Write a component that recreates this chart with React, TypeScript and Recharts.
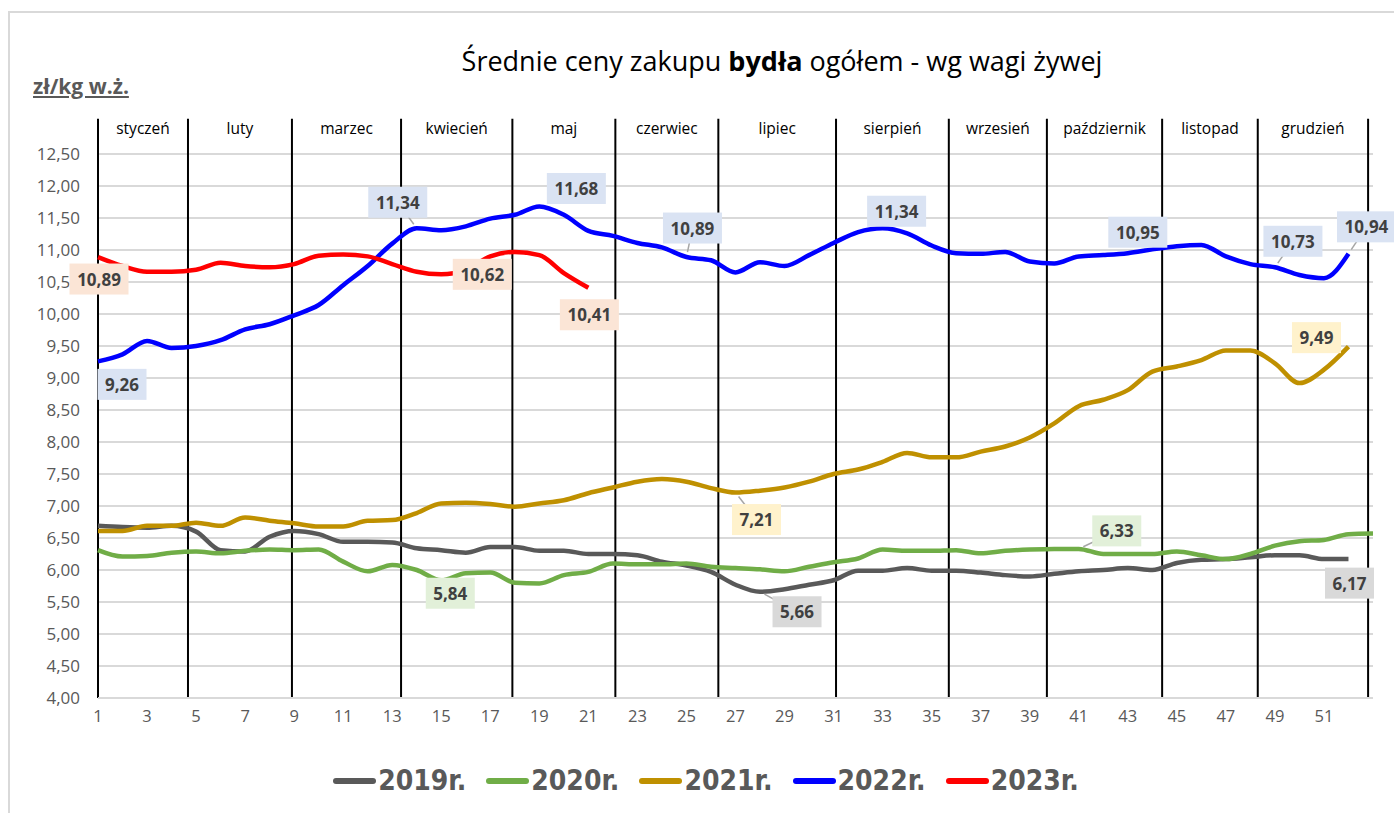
import {
  LineChart,
  Line,
  XAxis,
  YAxis,
  CartesianGrid,
  ReferenceLine,
  ReferenceDot,
  LabelList,
} from "recharts";

// weekly average purchase prices of cattle, zł/kg live weight
const weeks = [
  1, 2, 3, 4, 5, 6, 7, 8, 9, 10, 11, 12, 13, 14, 15, 16, 17, 18, 19, 20, 21, 22, 23, 24, 25, 26,
  27, 28, 29, 30, 31, 32, 33, 34, 35, 36, 37, 38, 39, 40, 41, 42, 43, 44, 45, 46, 47, 48, 49, 50,
  51, 52, 53,
];

const prices2019 = [
  6.69, 6.67, 6.66, 6.69, 6.6, 6.31, 6.29, 6.52, 6.61, 6.56, 6.44, 6.44, 6.43, 6.34, 6.31, 6.27,
  6.36, 6.36, 6.3, 6.3, 6.25, 6.25, 6.23, 6.13, 6.07, 5.97, 5.77, 5.66, 5.7, 5.77, 5.84, 5.99,
  5.99, 6.03, 5.99, 5.99, 5.96, 5.92, 5.9, 5.94, 5.98, 6.0, 6.03, 6.0, 6.11, 6.16, 6.17, 6.2, 6.23,
  6.23, 6.17, 6.17,
];
const prices2020 = [
  6.31, 6.21, 6.22, 6.27, 6.29, 6.26, 6.3, 6.32, 6.31, 6.32, 6.13, 5.98, 6.08, 6.0, 5.84, 5.95,
  5.96, 5.8, 5.79, 5.92, 5.97, 6.1, 6.09, 6.09, 6.1, 6.05, 6.03, 6.01, 5.98, 6.05, 6.12, 6.18,
  6.32, 6.3, 6.3, 6.31, 6.26, 6.3, 6.32, 6.33, 6.33, 6.25, 6.25, 6.25, 6.29, 6.23, 6.17, 6.25,
  6.38, 6.45, 6.47, 6.56, 6.57,
];
const prices2021 = [
  6.61, 6.61, 6.69, 6.69, 6.74, 6.69, 6.82, 6.77, 6.73, 6.68, 6.68, 6.77, 6.78, 6.89, 7.04, 7.05,
  7.03, 6.99, 7.04, 7.09, 7.2, 7.29, 7.38, 7.42, 7.38, 7.28, 7.21, 7.24, 7.29, 7.38, 7.5, 7.57,
  7.69, 7.83, 7.76, 7.76, 7.85, 7.93, 8.07, 8.29, 8.56, 8.66, 8.81, 9.1, 9.18, 9.28, 9.43, 9.43,
  9.23, 8.92, 9.13, 9.49,
];
const prices2022 = [
  9.26, 9.37, 9.58, 9.47, 9.5, 9.59, 9.76, 9.84, 9.98, 10.14, 10.45, 10.75, 11.1, 11.34, 11.31,
  11.37, 11.49, 11.55, 11.68, 11.55, 11.3, 11.22, 11.11, 11.04, 10.89, 10.84, 10.65, 10.81, 10.75,
  10.92, 11.11, 11.28, 11.34, 11.26, 11.07, 10.95, 10.94, 10.97, 10.82, 10.79, 10.9, 10.92, 10.95,
  11.01, 11.06, 11.08, 10.9, 10.78, 10.73, 10.61, 10.56, 10.94,
];
const prices2023 = [
  10.89, 10.75, 10.66, 10.66, 10.69, 10.8, 10.75, 10.73, 10.78, 10.91, 10.93, 10.9, 10.78, 10.66,
  10.62, 10.69, 10.9, 10.97, 10.92, 10.64, 10.41,
];

const yTicks = [4, 4.5, 5, 5.5, 6, 6.5, 7, 7.5, 8, 8.5, 9, 9.5, 10, 10.5, 11, 11.5, 12, 12.5];
const xTicks = [1, 3, 5, 7, 9, 11, 13, 15, 17, 19, 21, 23, 25, 27, 29, 31, 33, 35, 37, 39, 41, 43, 45, 47, 49, 51];

const monthNames = [
  "styczeń", "luty", "marzec", "kwiecień", "maj", "czerwiec",
  "lipiec", "sierpień", "wrzesień", "październik", "listopad", "grudzień",
];
// week positions of the hand drawn month separators
const monthBounds = [1, 4.67, 8.91, 13.36, 17.9, 22.1, 26.3, 31.1, 35.7, 39.7, 44.4, 48.3, 52.8];

const series = [
  { key: "y2019", name: "2019r.", values: prices2019 },
  { key: "y2020", name: "2020r.", values: prices2020 },
  { key: "y2021", name: "2021r.", values: prices2021 },
  { key: "y2022", name: "2022r.", values: prices2022 },
  { key: "y2023", name: "2023r.", values: prices2023 },
];

const lineColor: Record<string, string> = {
  y2019: "#595959",
  y2020: "#70AD47",
  y2021: "#BF9000",
  y2022: "#0000FF",
  y2023: "#FF0000",
};
const boxColor: Record<string, string> = {
  y2019: "#D9D9D9",
  y2020: "#E2F0D9",
  y2021: "#FFF2CC",
  y2022: "#DAE3F3",
  y2023: "#FBE5D6",
};

// which weeks get a value callout, and where the box sits relative to the point (px)
const callouts: Record<string, Record<number, [number, number, boolean?]>> = {
  y2019: { 28: [37, 20, true], 52: [1, 24] },
  y2020: { 15: [9, 13], 41: [38, -18, true] },
  y2021: { 27: [21, 27, true], 52: [-32, -9] },
  y2022: {
    1: [24, 23],
    14: [-19, -26, true],
    19: [37, -18],
    25: [6, -29, true],
    33: [14, -17],
    43: [10, -21],
    49: [18, -26, true],
    52: [18, -27, true],
  },
  y2023: { 1: [1, 22], 15: [41, 0], 21: [1, 27] },
};

const data = weeks.map((week, i) => {
  const row: Record<string, number | null> = { week };
  series.forEach((s) => {
    row[s.key] = i < s.values.length ? s.values[i] : null;
  });
  return row;
});

const fmt = (v: number) => v.toFixed(2).replace(".", ",");

const FONT = "'Open Sans', 'Liberation Sans', sans-serif";

function calloutFor(key: string) {
  return (props: any) => {
    const { x, y, value, index } = props;
    const spot = callouts[key][index + 1];
    if (!spot || value == null) return null;
    const [dx, dy, leader] = spot;
    const text = fmt(Number(value));
    const w = text.length * 10 + 9;
    const h = 31;
    const cx = x + dx;
    const cy = y + dy;
    const len = Math.hypot(dx, dy) || 1;
    return (
      <g>
        {leader && (
          <line
            x1={x + (dx / len) * 5}
            y1={y + (dy / len) * 5}
            x2={cx}
            y2={cy}
            stroke="#A6A6A6"
            strokeWidth={1.5}
          />
        )}
        <rect x={cx - w / 2} y={cy - h / 2} width={w} height={h} fill={boxColor[key]} />
        <text
          x={cx}
          y={cy}
          textAnchor="middle"
          dominantBaseline="central"
          fontFamily={FONT}
          fontWeight={700}
          fontSize={17}
          fill="#404040"
        >
          {text}
        </text>
      </g>
    );
  };
}

export default function App() {
  return (
    <div style={{ position: "absolute", left: 0, top: 0, width: 1394, height: 813, background: "#fff", overflow: "hidden" }}>
      <div
        style={{
          position: "absolute",
          left: 8,
          top: 11,
          width: 1400,
          height: 820,
          borderLeft: "2px solid #D9D9D9",
          borderTop: "2px solid #D9D9D9",
        }}
      />
      <div
        style={{
          position: "absolute",
          left: 170,
          width: 1224,
          top: 42,
          textAlign: "center",
          fontFamily: FONT,
          fontSize: 27,
          color: "#000",
          lineHeight: "38px",
        }}
      >
        Średnie ceny zakupu <b>bydła</b> ogółem - wg wagi żywej
      </div>
      <div
        style={{
          position: "absolute",
          left: 33,
          top: 72,
          fontFamily: FONT,
          fontSize: 21,
          fontWeight: 700,
          color: "#595959",
          textDecoration: "underline",
          lineHeight: "28px",
        }}
      >
        zł/kg w.ż.
      </div>

      <div style={{ position: "absolute", left: 0, top: 0 }}>
        <LineChart width={1394} height={813} data={data} margin={{ top: 154, right: 21, bottom: 85, left: 18 }}>
          <CartesianGrid vertical={false} stroke="#D9D9D9" strokeWidth={2} />
          <XAxis
            dataKey="week"
            type="number"
            domain={[1, 53]}
            ticks={xTicks}
            interval={0}
            tickLine={false}
            axisLine={{ stroke: "#D9D9D9", strokeWidth: 2 }}
            tick={{ fontFamily: FONT, fontSize: 16.5, fill: "#595959" }}
            tickMargin={6}
          />
          <YAxis
            type="number"
            domain={[4, 12.5]}
            ticks={yTicks}
            interval={0}
            axisLine={false}
            tickLine={false}
            width={80}
            tickSize={6}
            tickMargin={12}
            tickFormatter={fmt}
            tick={{ fontFamily: FONT, fontSize: 17, fill: "#595959" }}
          />
          {monthBounds.map((b) => (
            <ReferenceLine
              key={`m-${b}`}
              segment={[
                { x: b, y: 4 },
                { x: b, y: 13.05 },
              ]}
              ifOverflow="visible"
              stroke="#000"
              strokeWidth={2}
            />
          ))}
          {monthNames.map((name, i) => (
            <ReferenceDot
              key={name}
              x={(monthBounds[i] + monthBounds[i + 1]) / 2}
              y={12.9}
              ifOverflow="visible"
              shape={(p: any) => (
                <text
                  x={p.cx}
                  y={p.cy}
                  textAnchor="middle"
                  dominantBaseline="central"
                  fontFamily={FONT}
                  fontSize={15.5}
                  fill="#000"
                >
                  {name}
                </text>
              )}
            />
          ))}
          {series.map((s) => (
            <Line
              key={s.key}
              dataKey={s.key}
              name={s.name}
              type="monotone"
              stroke={lineColor[s.key]}
              strokeWidth={4.5}
              dot={false}
              activeDot={false}
              isAnimationActive={false}
            >
              <LabelList dataKey={s.key} content={calloutFor(s.key)} />
            </Line>
          ))}
        </LineChart>
      </div>

      <div
        style={{
          position: "absolute",
          left: 0,
          width: 1394,
          top: 762,
          display: "flex",
          justifyContent: "center",
          paddingLeft: 18,
          boxSizing: "border-box",
          gap: 20,
        }}
      >
        {series.map((s) => (
          <div key={s.key} style={{ display: "flex", alignItems: "center" }}>
            <div style={{ width: 43, height: 6, borderRadius: 3, background: lineColor[s.key], marginRight: 2 }} />
            <span
              style={{
                fontFamily: "'DejaVu Sans Condensed', 'Liberation Sans Narrow', sans-serif",
                fontStretch: "condensed",
                fontWeight: 700,
                fontSize: 28,
                color: "#595959",
                lineHeight: "38px",
              }}
            >
              {s.name}
            </span>
          </div>
        ))}
      </div>
    </div>
  );
}
